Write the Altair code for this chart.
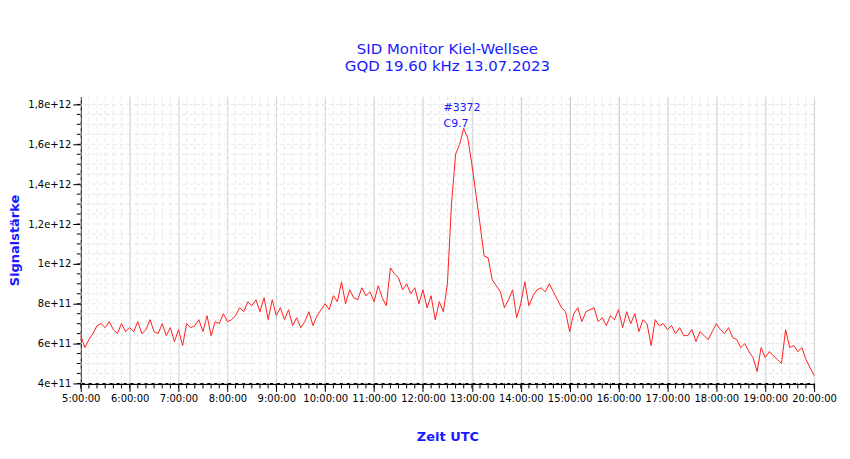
import pandas as pd
import altair as alt

# Signal strength, units of 1e11, every 5 minutes from 5:00 to 20:00 UTC
signal = [
    6.4, 5.8, 6.2, 6.5, 6.9, 7.0, 6.8, 7.1, 6.7, 6.5, 7.0, 6.6,
    6.8, 6.6, 7.1, 6.5, 6.7, 7.2, 6.6, 6.5, 7.0, 6.4, 6.8, 6.1,
    6.7, 5.9, 7.0, 6.8, 6.9, 7.2, 6.6, 7.4, 6.4, 7.1, 7.0, 7.5,
    7.1, 7.2, 7.4, 7.8, 7.6, 8.1, 7.9, 8.2, 7.6, 8.3, 7.2, 8.2,
    7.4, 7.8, 7.2, 7.7, 6.9, 7.3, 6.8, 7.1, 7.6, 6.9, 7.4, 7.7,
    8.0, 7.7, 8.4, 8.1, 9.1, 8.0, 8.7, 8.3, 8.2, 8.8, 8.4, 8.6,
    8.1, 8.9, 8.3, 7.9, 9.8, 9.5, 9.3, 8.7, 9.0, 8.5, 8.8, 8.0,
    8.7, 7.8, 8.4, 7.2, 8.1, 7.6, 9.0, 13.0, 15.5, 16.0, 16.8, 16.3,
    15.0, 13.5, 12.0, 10.4, 10.3, 9.2, 8.9, 8.6, 7.8, 8.2, 8.7, 7.3,
    8.0, 9.1, 7.9, 8.4, 8.7, 8.8, 8.6, 9.0, 8.6, 8.2, 7.8, 7.6,
    6.6, 7.5, 7.8, 7.1, 7.6, 7.7, 7.8, 7.1, 7.3, 6.9, 7.4, 7.2,
    7.7, 6.8, 7.6, 7.0, 7.5, 6.6, 7.2, 7.0, 5.9, 7.2, 6.9, 7.0,
    6.7, 6.9, 6.5, 6.8, 6.4, 6.4, 6.7, 6.1, 6.6, 6.4, 6.2, 6.6,
    7.0, 6.7, 6.5, 6.8, 6.3, 6.2, 5.8, 6.0, 5.6, 5.3, 4.6, 5.8,
    5.3, 5.6, 5.4, 5.2, 5.0, 6.7, 5.8, 5.9, 5.6, 5.8, 5.2, 4.8,
    4.4,
]
hours = [5 + i / 12 for i in range(len(signal))]
df = pd.DataFrame({'hour': hours, 'value': [v * 1e11 for v in signal]})

notes = pd.DataFrame({'hour': [12.42, 12.42], 'value': [1.78e12, 1.7e12],
                      'label': ['#3372', 'C9.7']})

major_x = list(range(5, 21))
minor_x = [5 + i / 6 for i in range(91)]
major_y = [4e11 + i * 2e11 for i in range(8)]
minor_y = [4e11 + i * 0.5e11 for i in range(29)]

W, H = 736, 288
xs = alt.Scale(domain=[5, 20], nice=False, zero=False)
ys = alt.Scale(domain=[4e11, 1.84e12], nice=False, zero=False)
blue = '#1a1aff'

label_y = ("datum.value >= 1e12 ? replace(format(datum.value/1e12, '.1~f'), '.', ',') + 'e+12'"
           " : replace(format(datum.value/1e11, '.1~f'), '.', ',') + 'e+11'")

gx = alt.Chart(pd.DataFrame({'hour': minor_x})).mark_rule(
    color='#e8e8e8', strokeDash=[4, 3]).encode(x=alt.X('hour:Q', scale=xs))
gy = alt.Chart(pd.DataFrame({'value': minor_y})).mark_rule(
    color='#e8e8e8', strokeDash=[4, 3]).encode(y=alt.Y('value:Q', scale=ys))
tx = alt.Chart(pd.DataFrame({'hour': minor_x})).mark_rule(color='black').encode(
    x=alt.X('hour:Q', scale=xs), y=alt.value(H), y2=alt.value(H + 5))
ty = alt.Chart(pd.DataFrame({'value': minor_y})).mark_rule(color='black').encode(
    y=alt.Y('value:Q', scale=ys), x=alt.value(-4), x2=alt.value(0))

line = alt.Chart(df).mark_line(color='#ff2020', strokeWidth=1).encode(
    x=alt.X('hour:Q', scale=xs, axis=alt.Axis(values=major_x, grid=True, gridColor='#c8c8c8',
            labelExpr="datum.value + ':00:00'", labelOverlap=False, labelFlush=False,
            title='Zeit UTC', titleColor=blue, titleFontSize=13, titlePadding=27,
            labelFontSize=10, labelColor='black', tickColor='black', tickSize=8,
            domainColor='black', domainWidth=2)),
    y=alt.Y('value:Q', scale=ys, axis=alt.Axis(values=major_y, grid=False, labelExpr=label_y,
            title='Signalstärke', titleColor=blue, titleFontSize=13, titlePadding=6,
            labelFontSize=10, labelColor='black', tickColor='black', tickSize=8,
            domainColor='black')),
)

text = alt.Chart(notes).mark_text(color=blue, fontSize=11, align='left', font='DejaVu Sans').encode(
    x=alt.X('hour:Q', scale=xs), y=alt.Y('value:Q', scale=ys), text='label:N')

chart = (
    alt.layer(gx, gy, line, tx, ty, text)
    .properties(width=W, height=H, padding={'left': 0, 'top': 33, 'right': 5, 'bottom': 5},
                title=alt.TitleParams(['SID Monitor Kiel-Wellsee', 'GQD 19.60 kHz 13.07.2023'],
                                      color=blue, fontSize=15, fontWeight='normal',
                                      font='DejaVu Sans', offset=22))
    .configure_view(stroke=None)
    .configure_axis(labelFont='DejaVu Sans', titleFont='DejaVu Sans')
)

chart.save('out.html', embed_options={'renderer': 'svg', 'actions': False})
